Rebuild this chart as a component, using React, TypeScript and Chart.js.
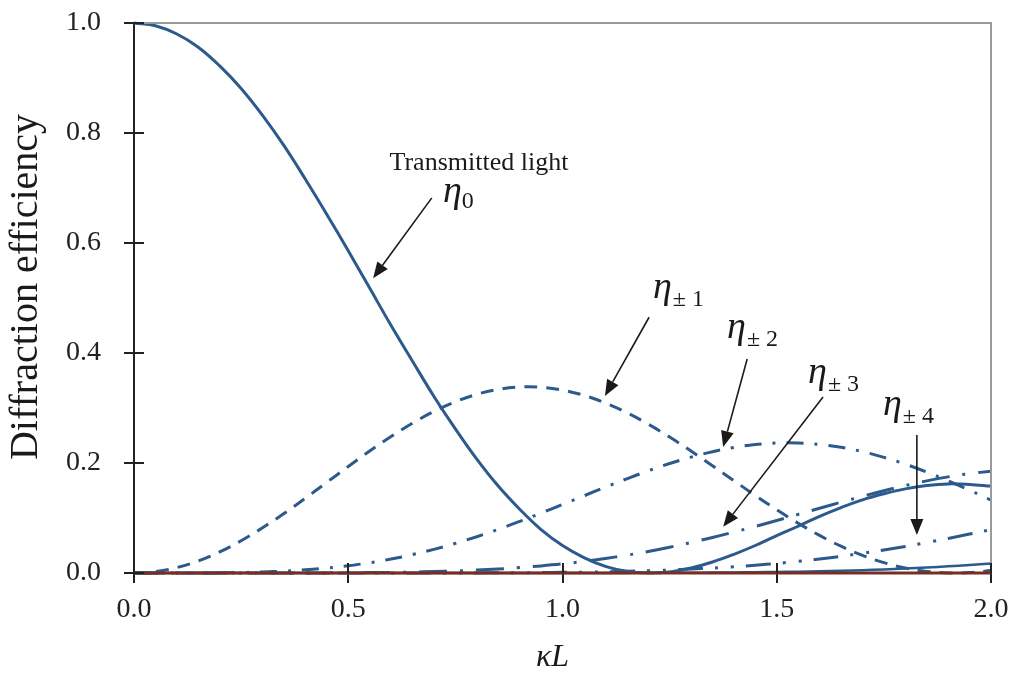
import { useEffect, useRef } from "react";
import { Chart, registerables } from "chart.js";

Chart.register(...registerables);

// κL sample positions
const kappaL = [
  0, 0.05, 0.1, 0.15, 0.2, 0.25, 0.3, 0.35, 0.4, 0.45, 0.5, 0.55, 0.6, 0.65, 0.7, 0.75, 0.8, 0.85, 0.9, 0.95,
  1.0, 1.05, 1.1, 1.15, 1.2, 1.25, 1.3, 1.35, 1.4, 1.45, 1.5, 1.55, 1.6, 1.65, 1.7, 1.75, 1.8, 1.85, 1.9, 1.95, 2.0,
];

// η0 (transmitted light)
const eta0 = [
  1.0, 0.995, 0.98, 0.956, 0.922, 0.881, 0.832, 0.777, 0.716, 0.652, 0.586, 0.518, 0.45, 0.385, 0.321, 0.262,
  0.207, 0.158, 0.116, 0.079, 0.05, 0.028, 0.012, 0.003, 0.0, 0.002, 0.009, 0.02, 0.034, 0.05, 0.068, 0.085,
  0.103, 0.119, 0.133, 0.144, 0.153, 0.159, 0.162, 0.161, 0.158,
];

// η±1
const eta1 = [
  0, 0.0025, 0.0099, 0.022, 0.0384, 0.0587, 0.0822, 0.1082, 0.136, 0.1648, 0.1936, 0.2217, 0.2483, 0.2725,
  0.2937, 0.3113, 0.3248, 0.3338, 0.3382, 0.3377, 0.3326, 0.323, 0.3091, 0.2915, 0.2706, 0.2471, 0.2217, 0.195,
  0.1679, 0.1409, 0.115, 0.0906, 0.0683, 0.0487, 0.0321, 0.0189, 0.0091, 0.0029, 0.0002, 0.0007, 0.0044,
];

// η±2
const eta2 = [
  0, 0.0, 0.0, 0.0001, 0.0004, 0.0009, 0.0019, 0.0035, 0.0057, 0.0089, 0.0132, 0.0186, 0.0254, 0.0335, 0.043,
  0.0539, 0.066, 0.0794, 0.0937, 0.1089, 0.1245, 0.1403, 0.1561, 0.1713, 0.1857, 0.199, 0.2107, 0.2205, 0.2282,
  0.2335, 0.2363, 0.2364, 0.2338, 0.2285, 0.2207, 0.2103, 0.1979, 0.1835, 0.1675, 0.1504, 0.1326,
];

// η±3
const eta3 = [
  0, 0, 0, 0, 0, 0, 0.0, 0.0, 0.0001, 0.0002, 0.0004, 0.0007, 0.0011, 0.0017, 0.0026, 0.0037, 0.0053, 0.0073,
  0.0098, 0.0129, 0.0166, 0.0211, 0.0264, 0.0324, 0.0392, 0.0469, 0.0554, 0.0645, 0.0744, 0.0847, 0.0955,
  0.1066, 0.1177, 0.1287, 0.1394, 0.1496, 0.159, 0.1675, 0.1748, 0.1807, 0.185,
];

// η±4
const eta4 = [
  0, 0, 0, 0, 0, 0, 0, 0, 0, 0, 0, 0, 0, 0, 0.0001, 0.0001, 0.0002, 0.0004, 0.0005, 0.0008, 0.0012, 0.0016,
  0.0023, 0.0031, 0.0041, 0.0054, 0.0071, 0.009, 0.0114, 0.0142, 0.0174, 0.0212, 0.0255, 0.0304, 0.0358, 0.0418,
  0.0483, 0.0554, 0.0629, 0.0708, 0.079,
];

// η±5
const eta5 = [
  0, 0, 0, 0, 0, 0, 0, 0, 0, 0, 0, 0, 0, 0, 0, 0, 0, 0, 0, 0, 0.0, 0.0001, 0.0001, 0.0002, 0.0003, 0.0004,
  0.0005, 0.0007, 0.001, 0.0014, 0.0019, 0.0024, 0.0032, 0.0041, 0.0052, 0.0065, 0.008, 0.0099, 0.0121, 0.0146,
  0.0174,
];

// higher orders (flat at zero)
const higherKappaL = [0, 2.0];
const etaHigher = [0, 0];

const xTicks = [0, 0.5, 1.0, 1.5, 2.0];
const yTicks = [0, 0.2, 0.4, 0.6, 0.8, 1.0];

const BLUE = "#2c5a8c";
const INK = "#1a1a1a";
const SERIF = '"Liberation Serif", "Times New Roman", serif';

// annotation arrows in data units: [tailX, tailY, tipX, tipY]
const arrows = [
  [0.695, 0.682, 0.558, 0.536],
  [1.202, 0.465, 1.099, 0.322],
  [1.431, 0.389, 1.375, 0.229],
  [1.608, 0.32, 1.375, 0.084],
  [1.827, 0.251, 1.827, 0.069],
];

// η labels: [x, baselineY, subscript]
const etaLabels: [number, number, string][] = [
  [0.721, 0.675, "0"],
  [1.211, 0.5, "± 1"],
  [1.384, 0.427, "± 2"],
  [1.573, 0.345, "± 3"],
  [1.748, 0.287, "± 4"],
];

const toXY = (xs: number[], ys: number[]) => xs.map((x, i) => ({ x, y: ys[i] }));

const overlayPlugin = {
  id: "overlay",
  afterDraw(chart: any) {
    const { ctx, chartArea: a, scales } = chart;
    const xs = scales.x;
    const ys = scales.y;
    ctx.save();

    // top & right frame
    ctx.strokeStyle = "#9a9a9a";
    ctx.lineWidth = 2;
    ctx.beginPath();
    ctx.moveTo(a.left, a.top);
    ctx.lineTo(a.right, a.top);
    ctx.lineTo(a.right, a.bottom);
    ctx.stroke();

    // inner halves of the ticks (cross ticks)
    ctx.strokeStyle = "#222";
    ctx.lineWidth = 2;
    ctx.beginPath();
    yTicks.forEach((v) => {
      const py = Math.round(ys.getPixelForValue(v));
      ctx.moveTo(a.left, py);
      ctx.lineTo(a.left + 10, py);
    });
    xTicks.forEach((v) => {
      const px = Math.round(xs.getPixelForValue(v));
      ctx.moveTo(px, a.bottom);
      ctx.lineTo(px, a.bottom - 10);
    });
    ctx.stroke();

    // arrows
    ctx.strokeStyle = INK;
    ctx.fillStyle = INK;
    ctx.lineWidth = 1.6;
    arrows.forEach(([tx, ty, hx, hy]) => {
      const x1 = xs.getPixelForValue(tx);
      const y1 = ys.getPixelForValue(ty);
      const x2 = xs.getPixelForValue(hx);
      const y2 = ys.getPixelForValue(hy);
      const ang = Math.atan2(y2 - y1, x2 - x1);
      const len = 16;
      const hw = 6.5;
      const bx = x2 - len * Math.cos(ang);
      const by = y2 - len * Math.sin(ang);
      ctx.beginPath();
      ctx.moveTo(x1, y1);
      ctx.lineTo(bx, by);
      ctx.stroke();
      ctx.beginPath();
      ctx.moveTo(x2, y2);
      ctx.lineTo(bx + hw * Math.sin(ang), by - hw * Math.cos(ang));
      ctx.lineTo(bx - hw * Math.sin(ang), by + hw * Math.cos(ang));
      ctx.closePath();
      ctx.fill();
    });

    // "Transmitted light"
    ctx.fillStyle = INK;
    ctx.textBaseline = "alphabetic";
    ctx.textAlign = "center";
    ctx.font = `26px ${SERIF}`;
    ctx.fillText("Transmitted light", xs.getPixelForValue(0.805), ys.getPixelForValue(0.733));

    // η labels
    ctx.textAlign = "left";
    etaLabels.forEach(([lx, ly, sub]) => {
      const px = xs.getPixelForValue(lx);
      const py = ys.getPixelForValue(ly);
      ctx.font = `italic 38px ${SERIF}`;
      ctx.fillText("η", px, py);
      const w = ctx.measureText("η").width;
      ctx.font = `24px ${SERIF}`;
      if (sub === "0") {
        ctx.fillText(sub, px + w, py + 6);
      } else {
        ctx.fillText(sub, px + w + 1, py + 8);
      }
    });

    // axis titles
    ctx.fillStyle = INK;
    ctx.textAlign = "center";
    ctx.textBaseline = "middle";
    ctx.font = `italic 32px ${SERIF}`;
    ctx.fillText("κL", (a.left + a.right) / 2 - 10, a.bottom + 85);

    ctx.save();
    ctx.translate(a.left - 108, (a.top + a.bottom) / 2 - 11);
    ctx.rotate(-Math.PI / 2);
    ctx.font = `40px ${SERIF}`;
    ctx.fillText("Diffraction efficiency", 0, 0);
    ctx.restore();

    ctx.restore();
  },
};

export default function App() {
  const canvasRef = useRef<HTMLCanvasElement | null>(null);

  useEffect(() => {
    document.body.style.margin = "0";
    const canvas = canvasRef.current;
    if (!canvas) return;

    const base = {
      borderColor: BLUE,
      pointRadius: 0,
      fill: false,
      tension: 0.4,
      borderCapStyle: "butt" as const,
      clip: false as const,
    };

    const chart = new Chart(canvas, {
      type: "line",
      data: {
        datasets: [
          { ...base, label: "η0", data: toXY(kappaL, eta0), borderWidth: 3 },
          { ...base, label: "η±1", data: toXY(kappaL, eta1), borderWidth: 3, borderDash: [13, 9] },
          { ...base, label: "η±2", data: toXY(kappaL, eta2), borderWidth: 3, borderDash: [17, 11, 3, 11] },
          { ...base, label: "η±3", data: toXY(kappaL, eta3), borderWidth: 3, borderDash: [28, 13, 3, 13] },
          {
            ...base,
            label: "η±4",
            data: toXY(kappaL, eta4),
            borderWidth: 3,
            borderDash: [25, 12, 3, 13, 3, 12],
          },
          { ...base, label: "η±5", data: toXY(kappaL, eta5), borderWidth: 2.5 },
          {
            ...base,
            label: "higher",
            data: toXY(higherKappaL, etaHigher),
            borderWidth: 3,
            borderColor: "#7a2e22",
            tension: 0,
            order: -1,
          },
        ],
      },
      options: {
        animation: false,
        responsive: true,
        maintainAspectRatio: false,
        events: [],
        layout: { padding: { top: 23, right: 22, left: 0, bottom: 0 } },
        plugins: { legend: { display: false }, tooltip: { enabled: false } },
        scales: {
          x: {
            type: "linear",
            min: 0,
            max: 2,
            afterFit: (s: any) => {
              s.height = 111;
              s.paddingLeft = 0;
              s.paddingRight = 0;
            },
            afterBuildTicks: (s: any) => {
              s.ticks = xTicks.map((v) => ({ value: v }));
            },
            border: { display: true, color: "#222", width: 2 },
            grid: { drawOnChartArea: false, drawTicks: true, tickLength: 10, color: "#222", lineWidth: 2 },
            ticks: {
              color: "#222",
              font: { family: SERIF, size: 28 },
              padding: 10,
              maxRotation: 0,
              callback: (v: any) => Number(v).toFixed(1),
            },
          },
          y: {
            type: "linear",
            min: 0,
            max: 1,
            afterFit: (s: any) => {
              s.width = 134;
              s.paddingTop = 0;
              s.paddingBottom = 0;
            },
            afterBuildTicks: (s: any) => {
              s.ticks = yTicks.map((v) => ({ value: v }));
            },
            border: { display: true, color: "#222", width: 2 },
            grid: { drawOnChartArea: false, drawTicks: true, tickLength: 10, color: "#222", lineWidth: 2 },
            ticks: {
              color: "#222",
              font: { family: SERIF, size: 28 },
              padding: 23,
              callback: (v: any) => Number(v).toFixed(1),
            },
          },
        },
      },
      plugins: [overlayPlugin],
    });

    return () => chart.destroy();
  }, []);

  return (
    <div style={{ position: "fixed", left: 0, top: 0, width: 1013, height: 684, background: "#fff" }}>
      <canvas ref={canvasRef} />
    </div>
  );
}
